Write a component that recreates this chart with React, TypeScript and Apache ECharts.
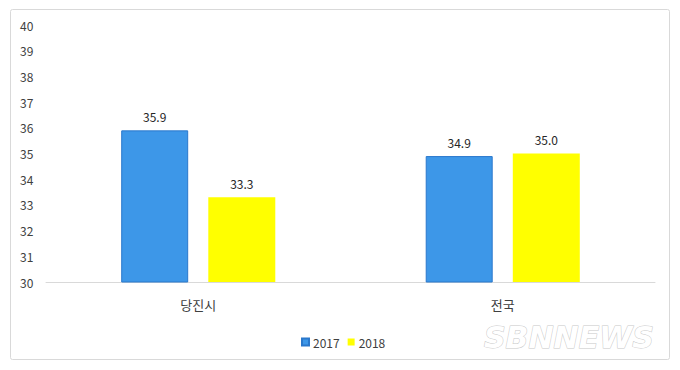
import React, { useEffect, useRef } from "react";
import * as echarts from "echarts";

const categories = ["당진시", "전국"];
const seriesNames = ["2017", "2018"];
const values2017 = [35.9, 34.9];
const values2018 = [33.3, 35.0];
const yTicks = [30, 31, 32, 33, 34, 35, 36, 37, 38, 39, 40];

const FONT = "'Noto Sans CJK KR', 'Noto Sans', sans-serif";

export default function App() {
  const ref = useRef<HTMLDivElement>(null);
  useEffect(() => {
    if (!ref.current) return;
    const chart = echarts.init(ref.current, null, { renderer: "svg" });
    const label = {
      show: true,
      position: "top",
      distance: 8,
      fontSize: 12,
      color: "#262626",
      fontFamily: FONT,
      formatter: (p: any) => Number(p.value).toFixed(1),
    };
    chart.setOption({
      animation: false,
      backgroundColor: "#ffffff",
      textStyle: { fontFamily: FONT },
      graphic: [
        {
          type: "rect",
          shape: { x: 10.5, y: 9.5, width: 659, height: 350, r: 2 },
          style: { fill: "none", stroke: "#d9d9d9", lineWidth: 1 },
          z: -1,
        },
        {
          type: "text",
          x: 484,
          y: 322,
          style: {
            text: "SBNNEWS",
            font: "italic bold 30px 'DejaVu Sans', sans-serif",
            fill: "#ffffff",
            stroke: "#c8c8c8",
            lineWidth: 1,
          },
          z: 10,
        },
      ],
      grid: { left: 46, right: 25, top: 25, bottom: 88, containLabel: false },
      legend: {
        data: seriesNames,
        left: 296,
        top: 331,
        itemWidth: 7,
        itemHeight: 7,
        itemGap: 8,
        icon: "rect",
        textStyle: { fontSize: 12, color: "#404040", fontFamily: FONT, padding: [0, 0, 0, -1] },
      },
      xAxis: {
        type: "category",
        data: categories,
        axisLine: { show: true, lineStyle: { color: "#d9d9d9", width: 1 } },
        axisTick: { show: false },
        axisLabel: { fontSize: 13, color: "#404040", margin: 16, fontFamily: FONT },
      },
      yAxis: {
        type: "value",
        min: yTicks[0],
        max: yTicks[yTicks.length - 1],
        interval: 1,
        axisLine: { show: false },
        axisTick: { show: false },
        splitLine: { show: false },
        axisLabel: {
          fontSize: 12,
          color: "#404040",
          align: "left",
          margin: 26,
          fontFamily: FONT,
        },
      },
      series: [
        {
          name: seriesNames[0],
          type: "bar",
          data: values2017,
          barWidth: "22%",
          barGap: "30%",
          itemStyle: { color: "#3d97e8", borderColor: "#2a78cc", borderWidth: 1 },
          label,
        },
        {
          name: seriesNames[1],
          type: "bar",
          data: values2018,
          barWidth: "22%",
          itemStyle: { color: "#ffff00" },
          label,
        },
      ],
    });
    return () => chart.dispose();
  }, []);
  return (
    <div
      ref={ref}
      style={{ position: "fixed", left: 0, top: 0, width: 680, height: 370 }}
    />
  );
}
